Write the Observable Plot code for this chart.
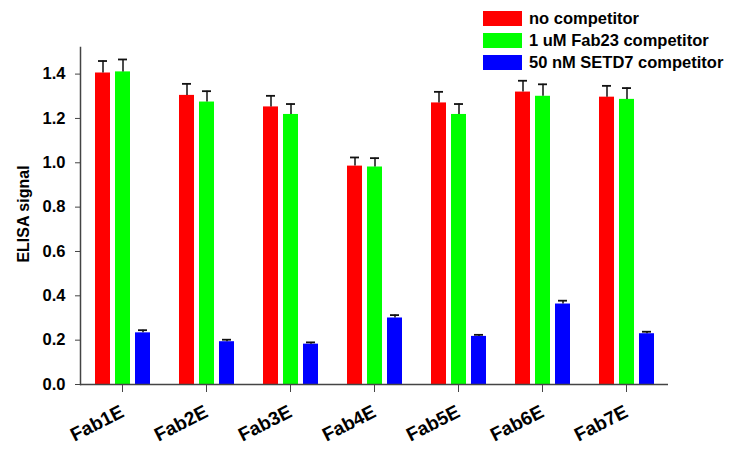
<!DOCTYPE html>
<html><head><meta charset="utf-8">
<script src="https://cdn.jsdelivr.net/npm/d3@7"></script>
<script src="https://cdn.jsdelivr.net/npm/@observablehq/plot@0.6"></script>
<style>
body{margin:0;background:#fff;}
#wrap{position:relative;width:734px;height:452px;font-family:"Liberation Sans",Arial,sans-serif;}
#legend{position:absolute;left:483px;top:7px;font-weight:bold;font-size:16.5px;color:#000;}
.row{display:flex;align-items:center;height:22px;}
.sw{width:39px;height:15px;margin-right:7px;}
</style></head><body><div id="wrap"><div id="chart"></div><div id="legend"></div></div>
<script>
const groups = ["Fab1E","Fab2E","Fab3E","Fab4E","Fab5E","Fab6E","Fab7E"];
const seriesNames = ["no competitor","1 uM Fab23 competitor","50 nM SETD7 competitor"];
const colors = ["#ff0000","#00ff00","#0000ff"];
const noCompetitor    = [1.405,1.304,1.252,0.985,1.270,1.319,1.296];
const noCompetitorErr = [0.054,0.052,0.050,0.039,0.050,0.051,0.051];
const fab23           = [1.410,1.274,1.218,0.981,1.218,1.300,1.286];
const fab23Err        = [0.056,0.049,0.047,0.040,0.047,0.054,0.051];
const setd7           = [0.233,0.193,0.182,0.300,0.217,0.363,0.229];
const setd7Err        = [0.012,0.009,0.008,0.013,0.007,0.015,0.009];
const yTicks = [0,0.2,0.4,0.6,0.8,1.0,1.2,1.4];
const yTitle = "ELISA signal";

const vals = [noCompetitor, fab23, setd7];
const errs = [noCompetitorErr, fab23Err, setd7Err];
const rows = [];
groups.forEach((g,i)=>{ vals.forEach((arr,j)=>{ rows.push({group:g, series:seriesNames[j], value:arr[i], err:errs[j][i]}); }); });

const chart = Plot.plot({
  width:734, height:452, marginLeft:80, marginRight:66, marginTop:47, marginBottom:68,
  style:{fontFamily:"'Liberation Sans', Arial, sans-serif", fontWeight:"bold", fontSize:"15px", color:"#000", background:"#fff"},
  fx:{domain:groups, padding:0, label:null},
  x:{domain:seriesNames, paddingInner:0.26, paddingOuter:0.7, axis:null},
  y:{domain:[0,1.52]},
  color:{domain:seriesNames, range:colors},
  marks:[
    Plot.barY(rows,{fx:"group", x:"series", y:"value", fill:"series"}),
    Plot.ruleX(rows,{fx:"group", x:"series", y1:"value", y2:d=>d.value+d.err, stroke:"#111", strokeWidth:1.5}),
    Plot.tickY(rows,{fx:"group", x:"series", y:d=>d.value+d.err, stroke:"#111", strokeWidth:1.8, insetLeft:3, insetRight:3}),
    Plot.ruleY([0], {stroke:"#444", strokeWidth:1.5}),
    Plot.frame({anchor:"left", facetAnchor:"left", stroke:"#444", strokeWidth:1.5}),
    Plot.axisY({ticks:yTicks, tickFormat:d3.format(".1f"), tickSize:5, tickPadding:10, label:null, fontSize:16.5, stroke:"#444"}),
    Plot.text([yTitle], {text:d=>d, frameAnchor:"left", textAnchor:"middle", rotate:-90, dx:-57, dy:-2, fontSize:16, fontWeight:"bold", facetAnchor:"left"}),
    Plot.axisFx({anchor:"bottom", tickRotate:-27, tickSize:8, tickPadding:18, label:null, fontSize:19, stroke:"#444"})
  ]
});
document.getElementById("chart").appendChild(chart);

const legend = document.getElementById("legend");
seriesNames.forEach((s,i)=>{
  const r = document.createElement("div"); r.className="row";
  const sw = document.createElement("div"); sw.className="sw"; sw.style.background=colors[i];
  const t = document.createElement("span"); t.textContent=s;
  r.appendChild(sw); r.appendChild(t); legend.appendChild(r);
});
</script></body></html>
